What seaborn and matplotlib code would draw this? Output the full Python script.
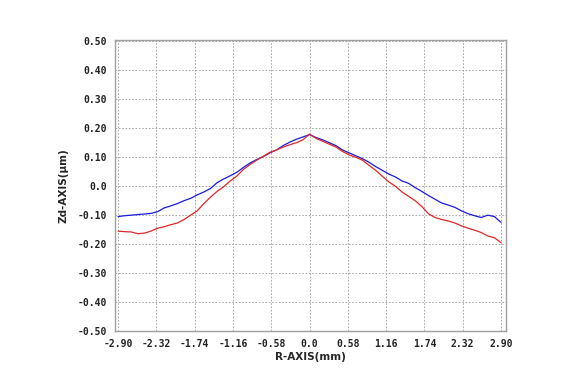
import numpy as np
import pandas as pd
import seaborn as sns
import matplotlib
matplotlib.use("Agg")
import matplotlib.pyplot as plt

# profile positions (mm)
r_pos = [-2.9, -2.8, -2.7, -2.6, -2.5, -2.4, -2.3, -2.2, -2.1, -2.0,
         -1.9, -1.8, -1.7, -1.6, -1.5, -1.4, -1.3, -1.2, -1.1, -1.0,
         -0.9, -0.8, -0.7, -0.6, -0.5, -0.4, -0.3, -0.2, -0.1, 0.0,
         0.1, 0.2, 0.3, 0.4, 0.5, 0.6, 0.7, 0.8, 0.9, 1.0,
         1.1, 1.2, 1.3, 1.4, 1.5, 1.6, 1.7, 1.8, 1.9, 2.0,
         2.1, 2.2, 2.3, 2.4, 2.5, 2.6, 2.7, 2.8, 2.9]

# measured deviation (um), blue trace
zd_blue = [-0.105, -0.102, -0.100, -0.098, -0.096, -0.094, -0.088, -0.075, -0.068, -0.060,
           -0.050, -0.042, -0.030, -0.020, -0.008, 0.012, 0.025, 0.036, 0.048, 0.065,
           0.080, 0.092, 0.102, 0.115, 0.125, 0.140, 0.152, 0.162, 0.170, 0.178,
           0.168, 0.160, 0.150, 0.140, 0.125, 0.115, 0.105, 0.095, 0.083, 0.068,
           0.055, 0.042, 0.032, 0.018, 0.010, -0.005, -0.018, -0.032, -0.045, -0.058,
           -0.065, -0.073, -0.085, -0.095, -0.102, -0.108, -0.100, -0.105, -0.125]

# measured deviation (um), red trace
zd_red = [-0.155, -0.157, -0.158, -0.164, -0.162, -0.155, -0.145, -0.140, -0.133, -0.127,
          -0.115, -0.100, -0.085, -0.060, -0.038, -0.018, -0.002, 0.018, 0.035, 0.058,
          0.075, 0.090, 0.103, 0.117, 0.125, 0.135, 0.143, 0.150, 0.160, 0.180,
          0.165, 0.155, 0.145, 0.135, 0.120, 0.108, 0.100, 0.090, 0.072, 0.055,
          0.035, 0.015, 0.000, -0.020, -0.035, -0.050, -0.070, -0.095, -0.108, -0.115,
          -0.120, -0.127, -0.137, -0.145, -0.152, -0.160, -0.172, -0.178, -0.195]

x_ticks = [-2.90, -2.32, -1.74, -1.16, -0.58, 0.0, 0.58, 1.16, 1.74, 2.32, 2.90]
x_tick_labels = ["-2.90", "-2.32", "-1.74", "-1.16", "-0.58", "0.0",
                 "0.58", "1.16", "1.74", "2.32", "2.90"]
y_ticks = [-0.5, -0.4, -0.3, -0.2, -0.1, 0.0, 0.1, 0.2, 0.3, 0.4, 0.5]
y_tick_labels = ["-0.50", "-0.40", "-0.30", "-0.20", "-0.10", "0.0",
                 "0.10", "0.20", "0.30", "0.40", "0.50"]

df = pd.DataFrame({
    "r": r_pos * 2,
    "zd": zd_blue + zd_red,
    "trace": ["blue"] * len(r_pos) + ["red"] * len(r_pos),
})

sns.set_style("white")
plt.rcParams["font.family"] = ["DejaVu Sans"]

fig = plt.figure(figsize=(5.75, 3.84), dpi=100)
ax = fig.add_axes([0.2, 0.138, 0.68, 0.758])

sns.lineplot(data=df, x="r", y="zd", hue="trace",
             palette={"blue": "#1a1adc", "red": "#e02828"},
             linewidth=0.9, legend=False, ax=ax)

ax.set_xlim(-2.945, 2.975)
ax.set_ylim(-0.5, 0.505)
ax.set_xticks(x_ticks)
ax.set_xticklabels(x_tick_labels)
ax.set_yticks(y_ticks)
ax.set_yticklabels(y_tick_labels)
for lab in ax.get_xticklabels() + ax.get_yticklabels():
    lab.set_family("DejaVu Sans Mono")
    lab.set_fontweight("bold")
    lab.set_fontsize(7)
ax.tick_params(length=0, pad=6, colors="#222222")

ax.grid(True, color="#9a9a9a", linestyle=(0, (2, 2)), linewidth=0.6)
for sp in ax.spines.values():
    sp.set_color("#a0a0a0")
    sp.set_linewidth(1.0)

ax.set_xlabel("R-AXIS(mm)", fontsize=7.5, fontweight="bold", labelpad=2)
ax.set_ylabel("Zd-AXIS(μm)", fontsize=7.5, fontweight="bold", labelpad=6)

fig.savefig("out.png", dpi=100)
